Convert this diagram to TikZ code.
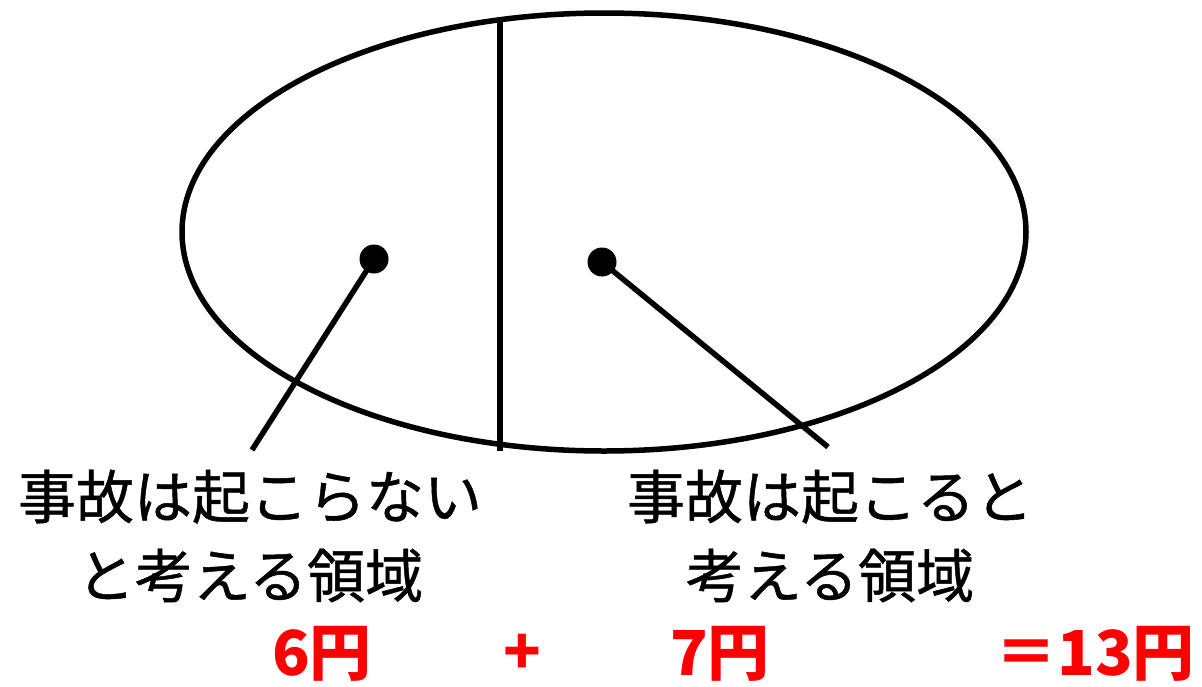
\documentclass[tikz,border=0pt]{standalone}
\usepackage{fontspec}
\setmainfont{Noto Sans CJK JP}
\newfontfamily\medfont{Noto Sans CJK JP}[FakeBold=0.8]
\begin{document}
\begin{tikzpicture}[x=1pt,y=-1pt,
  shape line/.style={line width=5.5pt},
  dotmark/.style={circle,fill=black,inner sep=0pt,minimum size=29pt},
  label text/.style={font=\medfont\fontsize{58}{79}\selectfont,align=center,inner sep=0pt},
  sum text/.style={font=\bfseries\fontsize{62}{70}\selectfont,text=red,inner sep=0pt}]
\useasboundingbox (0,0) rectangle (1202,686);
\draw[shape line] (604,232) ellipse [x radius=422, y radius=219];
\coordinate (top) at (500,19);
\coordinate (bot) at (500,451);
\draw[shape line] (top) -- (bot);
\node[dotmark] (d1) at (374,259) {};
\node[dotmark] (d2) at (602,262) {};
\coordinate (e1) at (252,450);
\coordinate (e2) at (828,447);
\draw[shape line] (d1.center) -- (e1);
\draw[shape line] (d2.center) -- (e2);
\node[label text] (t1) at (250,536) {事故は起こらない\\と考える領域};
\node[label text] (t2) at (830,536) {事故は起こると\\考える領域};
\node[sum text] (s1) at (322,654) {6円};
\node[sum text] (s2) at (522,654) {+};
\node[sum text] (s3) at (720,654) {7円};
\node[sum text] (s4) at (1095,654) {＝13円};
\end{tikzpicture}
\end{document}
